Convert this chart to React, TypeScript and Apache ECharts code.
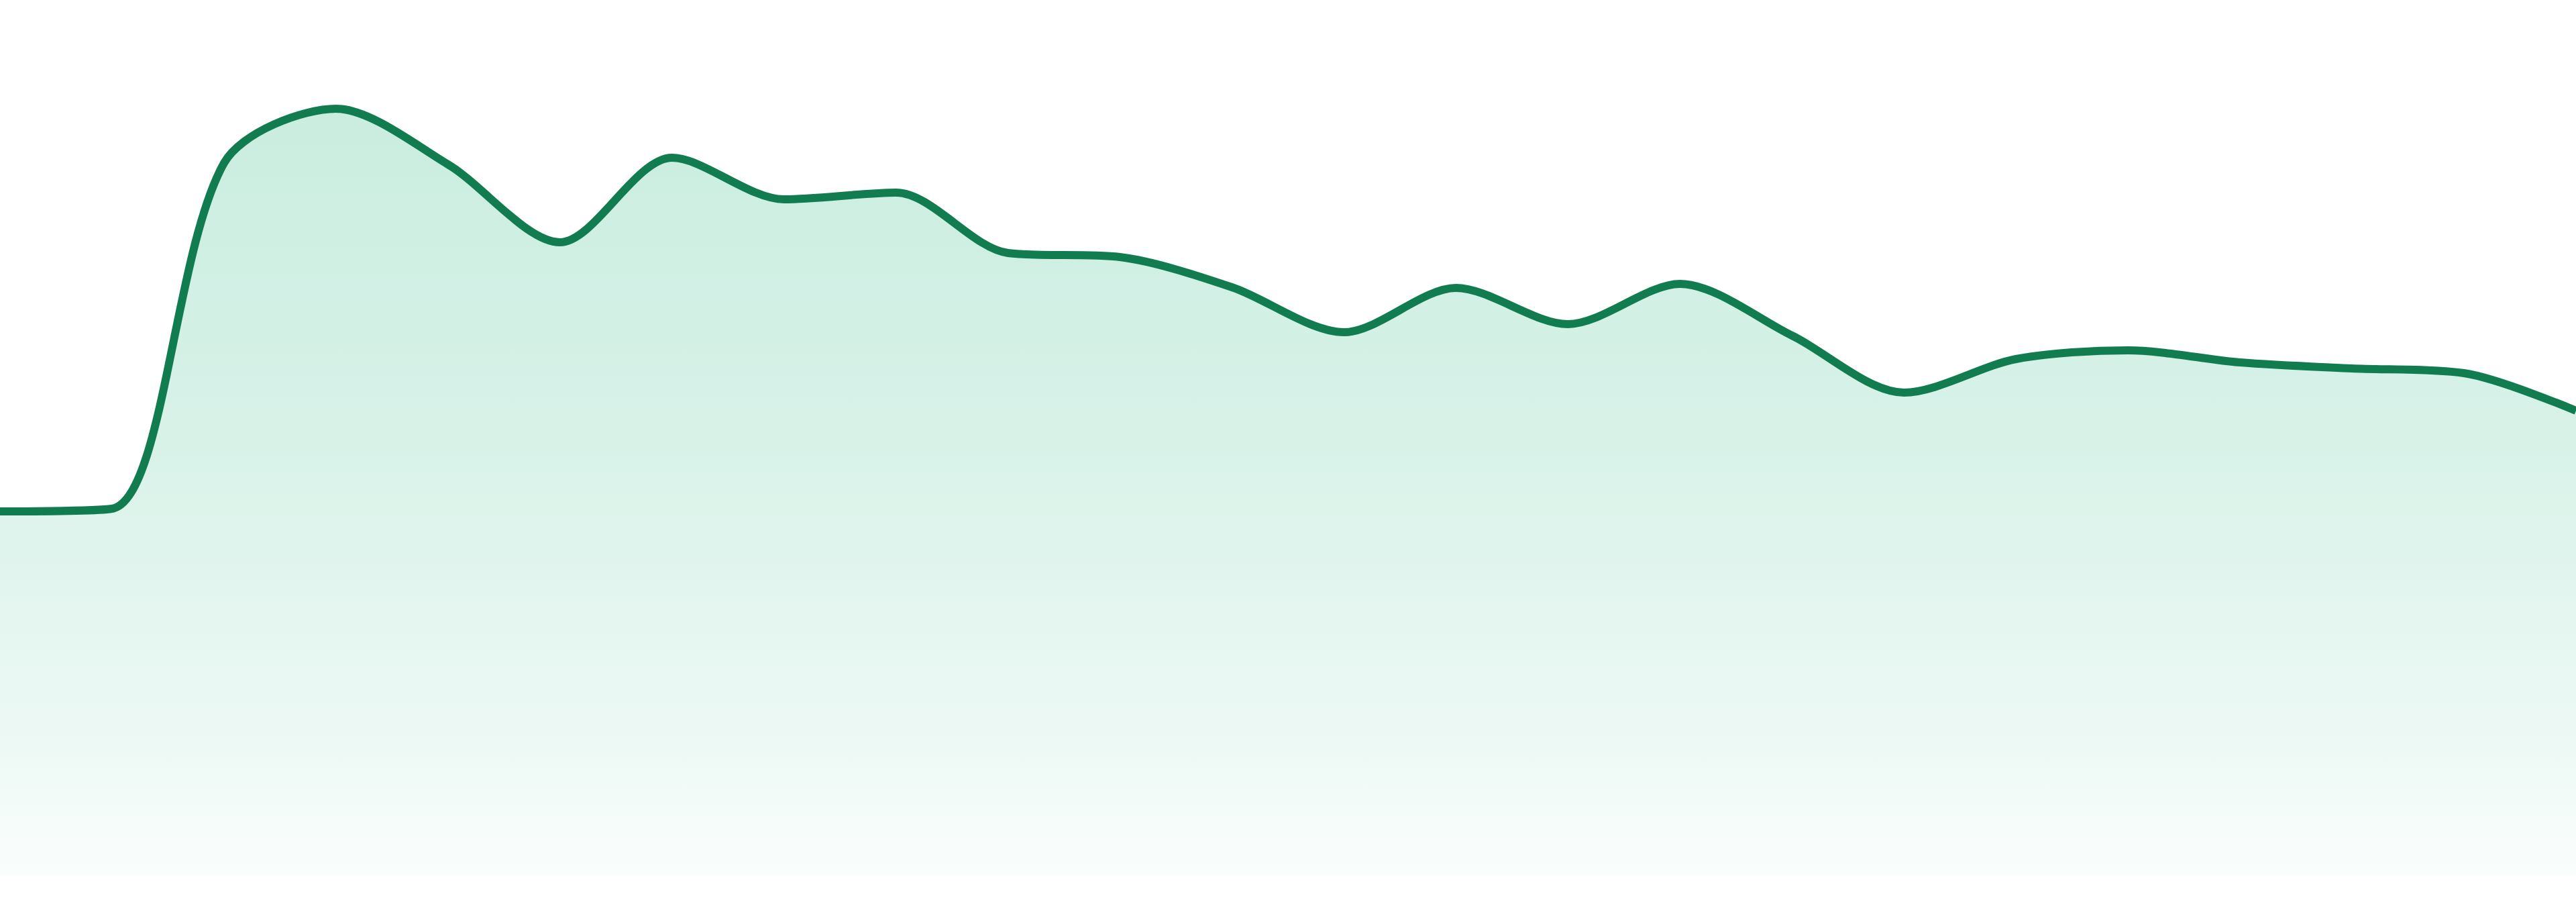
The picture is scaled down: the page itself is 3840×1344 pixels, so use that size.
import { useEffect, useRef } from 'react';
import * as echarts from 'echarts';

const hours = [
  '00:00', '01:00', '02:00', '03:00', '04:00', '05:00', '06:00', '07:00',
  '08:00', '09:00', '10:00', '11:00', '12:00', '13:00', '14:00', '15:00',
  '16:00', '17:00', '18:00', '19:00', '20:00', '21:00', '22:00', '23:00',
];

const values = [
  54.3, 54.7, 106.2, 114.3, 106.0, 94.4, 107.0, 100.8,
  101.8, 92.8, 92.2, 87.7, 81.0, 87.6, 82.2, 88.2,
  80.5, 72.0, 77.0, 78.3, 76.5, 75.6, 74.9, 69.3,
];

const yMin = 0;
const yMax = 130;

export default function App() {
  const chartRef = useRef<HTMLDivElement>(null);

  useEffect(() => {
    document.body.style.margin = '0';
    if (!chartRef.current) return;

    const chart = echarts.init(chartRef.current, undefined, { renderer: 'svg' });

    const option: echarts.EChartsOption = {
      animation: false,
      backgroundColor: '#ffffff',
      grid: {
        top: 5,
        right: 0,
        bottom: 39,
        left: 0,
      },
      xAxis: {
        type: 'category',
        data: hours,
        boundaryGap: false,
        show: false,
      },
      yAxis: {
        type: 'value',
        min: yMin,
        max: yMax,
        show: false,
      },
      series: [
        {
          type: 'line',
          data: values,
          smooth: 0.3,
          symbol: 'none',
          lineStyle: {
            width: 12,
            color: '#127c51',
          },
          areaStyle: {
            color: new echarts.graphic.LinearGradient(0, 0, 0, 1, [
              { offset: 0, color: 'rgba(16, 175, 115, 0.32)' },
              { offset: 0.47, color: 'rgba(16, 175, 115, 0.22)' },
              { offset: 0.82, color: 'rgba(16, 175, 115, 0.11)' },
              { offset: 1, color: 'rgba(16, 175, 115, 0.03)' },
            ]),
          },
        },
      ],
    };

    chart.setOption(option);

    return () => {
      chart.dispose();
    };
  }, []);

  return <div ref={chartRef} style={{ width: 3840, height: 1344 }} />;
}
